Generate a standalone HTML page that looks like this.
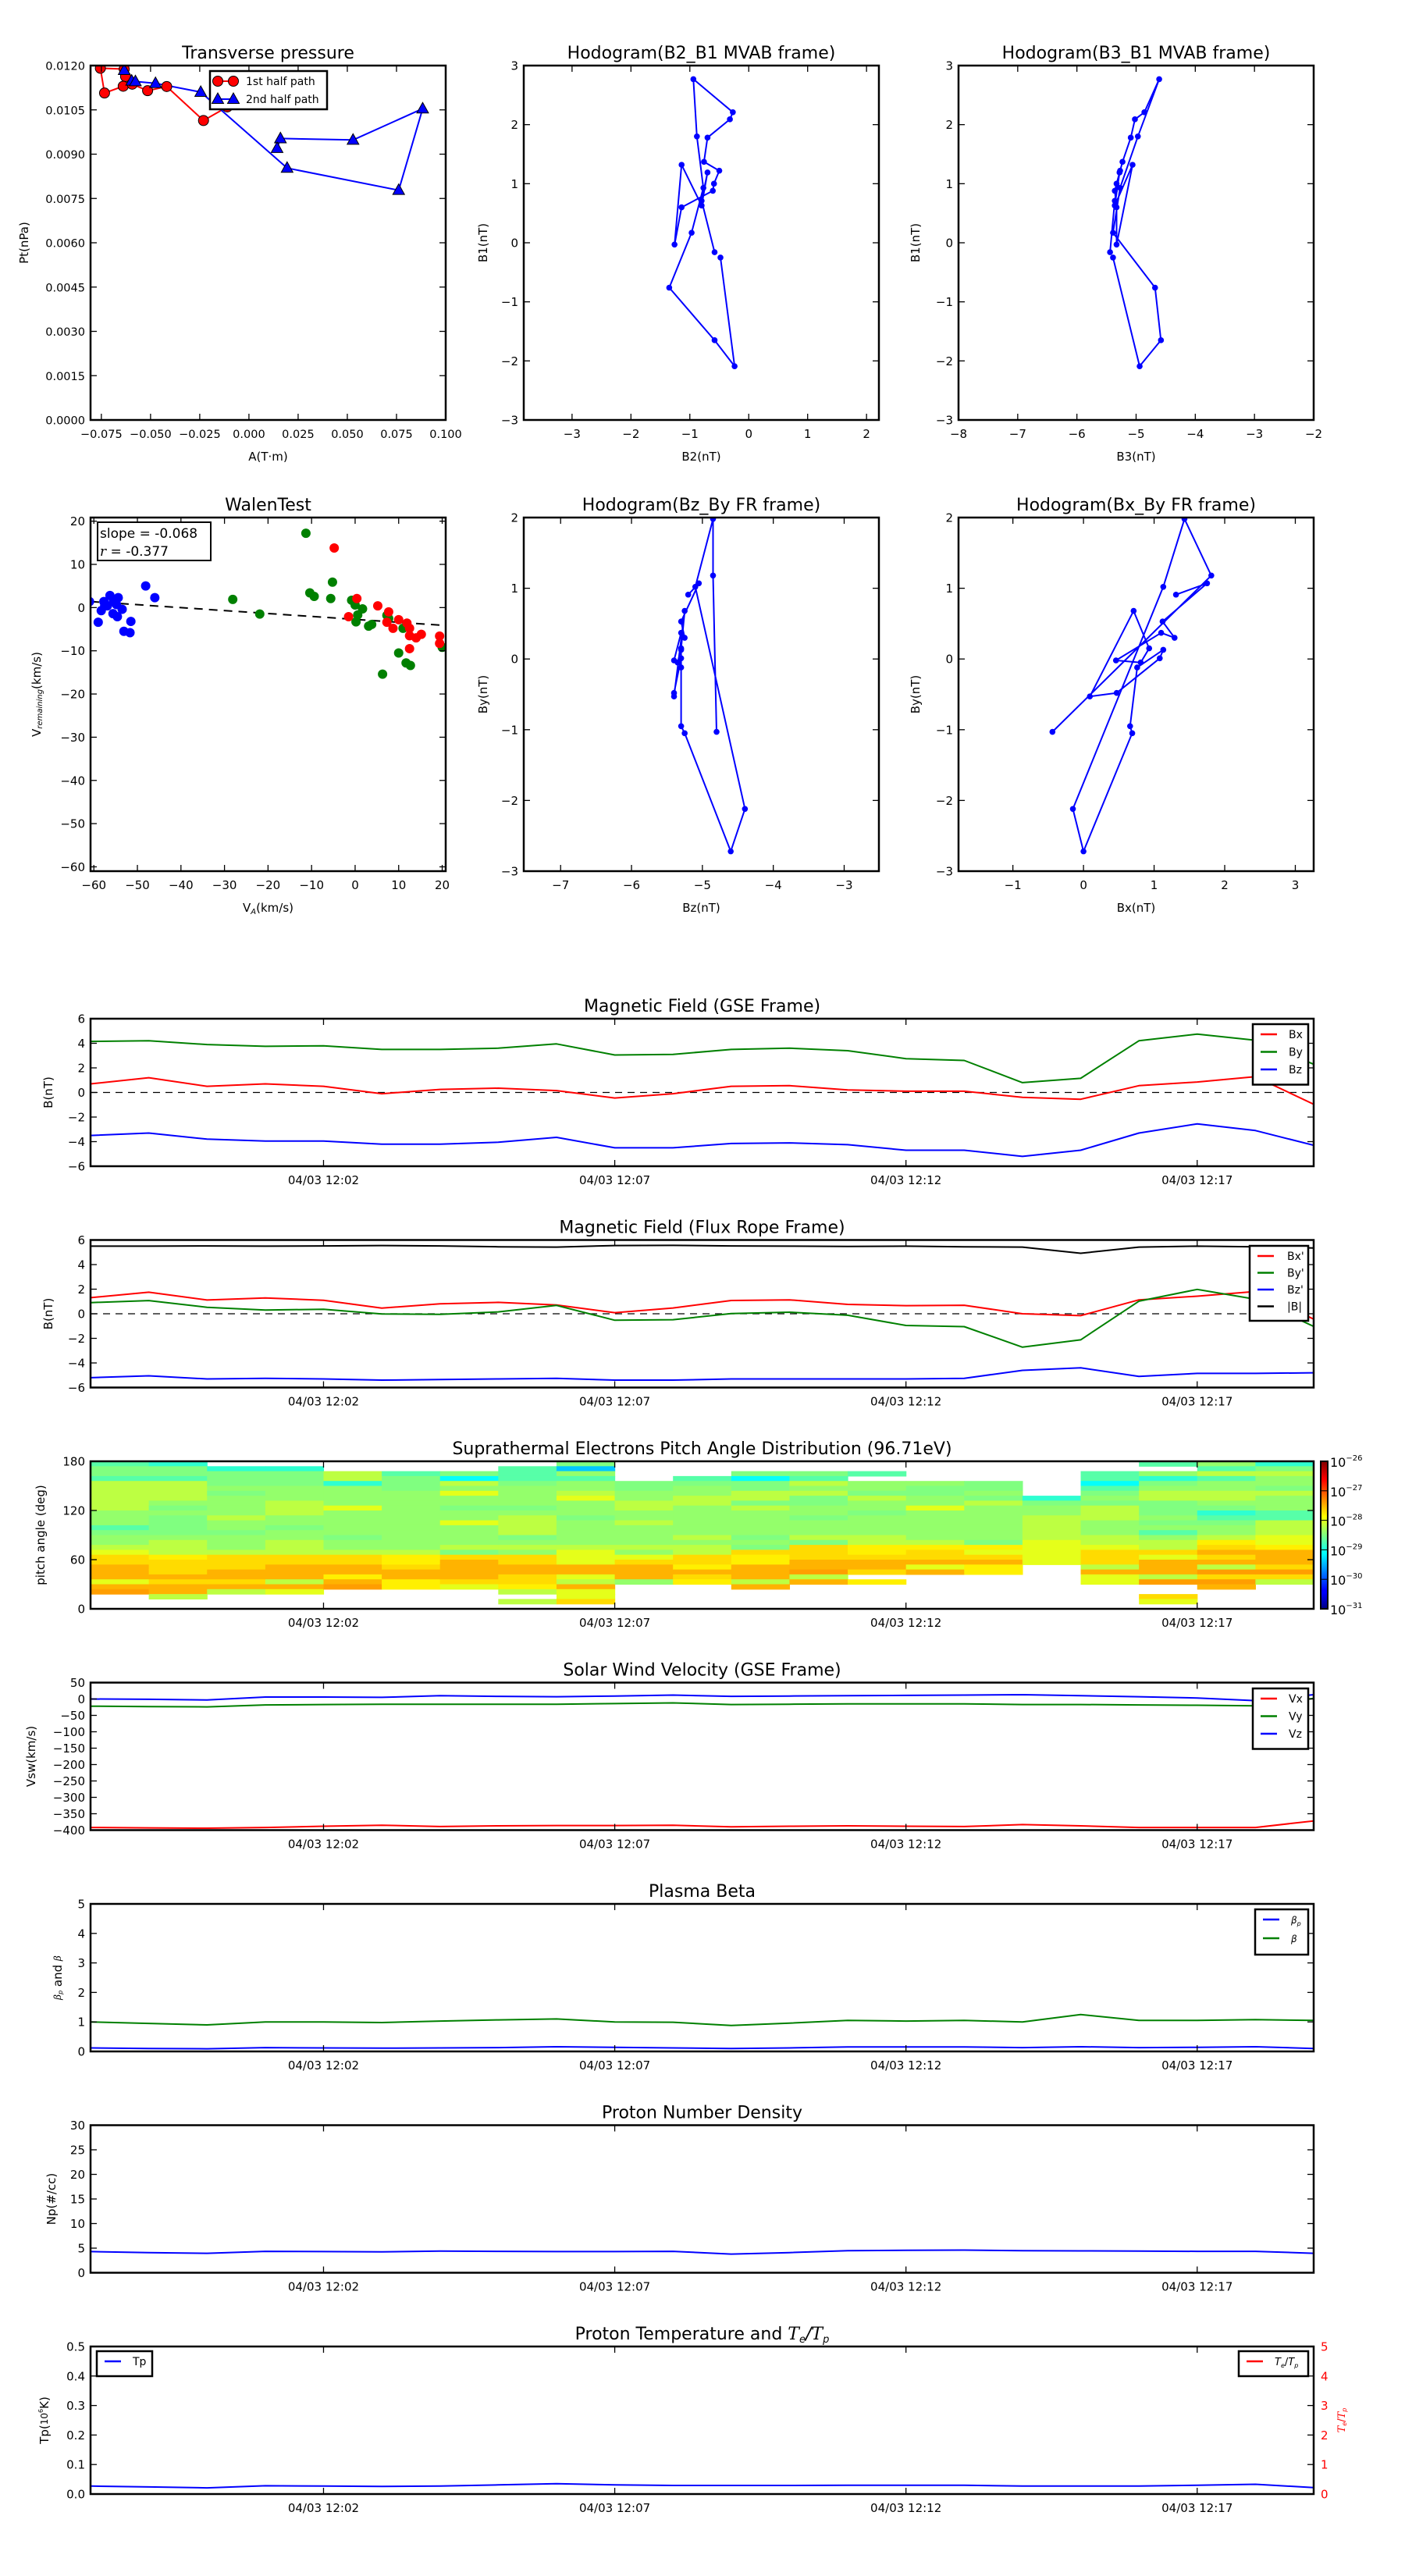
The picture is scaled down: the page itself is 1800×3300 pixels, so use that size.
<!DOCTYPE html>
<html><head><meta charset="utf-8"><style>
html,body{margin:0;padding:0;background:#fff;}
svg{display:block;font-family:"DejaVu Sans","Liberation Sans",sans-serif;}
</style></head>
<body>
<svg id="fig" width="1800" height="3300" viewBox="0 0 1800 3300" xmlns="http://www.w3.org/2000/svg">
<defs>
<linearGradient id="jet" x1="0" y1="1" x2="0" y2="0">
<stop offset="0" stop-color="#000080"/><stop offset="0.11" stop-color="#0000ff"/><stop offset="0.125" stop-color="#0000ff"/>
<stop offset="0.375" stop-color="#00ffff"/><stop offset="0.625" stop-color="#ffff00"/><stop offset="0.875" stop-color="#ff0000"/><stop offset="1" stop-color="#800000"/>
</linearGradient>
</defs>
<rect x="0" y="0" width="1800" height="3300" fill="#fff"/>
</svg>
<script>
// ---------------- DATA ----------------
const N = null;
// Transverse pressure
const tp1A = [-0.0627,-0.0634,-0.0755,-0.0734,-0.0639,-0.0593,-0.0515,-0.0418,-0.0231,-0.011];
const tp1P = [0.01163,0.01188,0.01191,0.01107,0.0113,0.01137,0.01115,0.01129,0.01014,0.0106];
const tp2A = [-0.0634,-0.0596,-0.0577,-0.0475,-0.0245,0.0194,0.0761,0.0883,0.0529,0.0160,0.0143];
const tp2P = [0.01184,0.01148,0.01146,0.0114,0.0111,0.00853,0.00778,0.01054,0.00948,0.00953,0.0092];
// MVAB hodograms
const mvB1 = [-0.25,-2.09,-1.65,-0.76,0.17,0.93,1.80,2.77,2.21,2.09,1.78,1.37,1.22,1.00,0.88,0.60,-0.03,1.32,0.63,1.19,0.71,-0.16];
const mvB2 = [-0.48,-0.24,-0.58,-1.35,-0.97,-0.77,-0.88,-0.94,-0.27,-0.32,-0.70,-0.76,-0.50,-0.59,-0.61,-1.14,-1.26,-1.14,-0.80,-0.70,-0.80,-0.58];
const mvB3 = [-5.39,-4.94,-4.58,-4.68,-5.39,-5.27,-4.97,-4.61,-4.86,-5.02,-5.09,-5.23,-5.27,-5.33,-5.36,-5.33,-5.33,-5.06,-5.36,-5.28,-5.36,-5.44];
// Walen test
const walBlueX = [-61,-59,-58.3,-57.7,-56.3,-56.9,-55.6,-54.8,-54.4,-54.6,-53.5,-53.1,-51.7,-51.5,-48.1,-46,-57.5,-55.5];
const walBlueY = [1.4,-3.4,-0.7,1.4,2.8,0.4,-1.4,0.7,2.3,-2.1,-0.4,-5.5,-5.8,-3.2,5.0,2.3,0.5,1.5];
const walGreenX = [-28.1,-21.9,-11.3,-10.4,-9.4,-5.2,-5.6,-0.8,0,0.2,0.6,1.7,3.1,3.8,6.3,7.3,7.7,10,11,11.7,12.7,20];
const walGreenY = [1.9,-1.5,17.2,3.4,2.6,5.9,2.1,1.7,0.6,-3.3,-1.7,-0.3,-4.3,-3.9,-15.4,-1.8,-2.5,-10.5,-4.8,-12.8,-13.4,-9.2];
const walRedX = [-4.8,-1.5,0.4,5.2,7.7,7.3,8.7,10,11.9,12.5,12.5,12.5,14,15.2,19.4,19.4];
const walRedY = [13.8,-2.1,2.1,0.4,-1.0,-3.4,-4.8,-2.8,-3.6,-4.8,-6.5,-9.5,-7,-6.2,-6.6,-8.3];
const walSlope = -0.068;
const walIntercept = -2.73;
// time axis (minutes after 11:58)
const tMin = [0,1,2,3,4,5,6,7,8,9,10,11,12,13,14,15,16,17,18,19,20,21];
const timeTickMin = [4,9,14,19];
const timeTickLabels = ["04/03 12:02","04/03 12:07","04/03 12:12","04/03 12:17"];
// GSE field
const gseBx = [0.7,1.2,0.5,0.7,0.5,-0.1,0.25,0.35,0.15,-0.45,-0.1,0.5,0.55,0.2,0.1,0.1,-0.4,-0.55,0.55,0.85,1.28,-0.96];
const gseBy = [4.15,4.2,3.9,3.75,3.8,3.5,3.5,3.6,3.95,3.05,3.1,3.5,3.6,3.4,2.75,2.6,0.8,1.15,4.2,4.75,4.25,2.3];
const gseBz = [-3.5,-3.3,-3.8,-3.95,-3.95,-4.2,-4.2,-4.05,-3.65,-4.5,-4.5,-4.15,-4.1,-4.25,-4.7,-4.7,-5.2,-4.7,-3.3,-2.55,-3.1,-4.3];
// Flux rope field
const frBx = [1.31,1.75,1.12,1.29,1.1,0.46,0.81,0.93,0.71,0.09,0.47,1.08,1.13,0.76,0.66,0.69,0.0,-0.15,1.13,1.43,1.81,-0.44];
const frBy = [0.91,1.07,0.53,0.3,0.37,-0.02,-0.05,0.15,0.68,-0.53,-0.48,0.01,0.13,-0.12,-0.95,-1.05,-2.72,-2.12,1.02,1.98,1.18,-1.03];
const frBz = [-5.2,-5.05,-5.3,-5.25,-5.3,-5.4,-5.35,-5.3,-5.25,-5.4,-5.4,-5.3,-5.3,-5.3,-5.3,-5.25,-4.6,-4.4,-5.1,-4.85,-4.85,-4.8];
const frBt = [5.5,5.5,5.52,5.5,5.52,5.55,5.52,5.45,5.42,5.55,5.56,5.52,5.5,5.47,5.5,5.45,5.42,4.92,5.42,5.5,5.45,5.35];
// Solar wind velocity
const vx = [-392,-393,-394,-392,-388,-385,-389,-387,-386,-386,-385,-390,-388,-387,-388,-389,-383,-387,-392,-392,-392,-372];
const vy = [-22,-23,-24,-18,-17,-16,-16,-16,-16,-14,-12,-17,-16,-15,-15,-15,-17,-17,-18,-19,-21,2];
const vz = [0,-1,-3,6,6,5,10,8,7,9,12,8,9,10,11,12,13,10,7,3,-5,13];
// Plasma beta
const betaTot = [1.0,0.95,0.9,1.0,1.0,0.98,1.03,1.07,1.1,1.0,0.99,0.88,0.96,1.05,1.03,1.05,1.0,1.25,1.05,1.05,1.08,1.05];
const betaP = [0.12,0.1,0.09,0.13,0.12,0.11,0.12,0.13,0.16,0.14,0.12,0.1,0.12,0.15,0.15,0.15,0.13,0.16,0.13,0.14,0.16,0.1];
// Density, temperature
const np = [4.3,4.1,3.95,4.35,4.3,4.25,4.4,4.35,4.3,4.3,4.35,3.8,4.1,4.5,4.55,4.6,4.5,4.45,4.4,4.35,4.35,3.95];
const tp = [0.027,0.024,0.021,0.028,0.027,0.026,0.027,0.031,0.035,0.031,0.029,0.029,0.029,0.03,0.03,0.03,0.027,0.027,0.027,0.03,0.033,0.022];
// PAD: log10 values, each column top (180 deg) to bottom (0 deg), 6-deg bins
const padCols = [
[-28.7,-28.5,-28.5,-28.7,-28.2,-28.2,-28.2,-28.2,-28.2,-28.2,-28.4,-28.4,-28.4,-28.7,-28.5,-28.4,-28.4,-28.2,-28,-27.7,-27.7,-27.5,-27.5,-27.5,-28,-27.5,-27.4,N,N,N],
[-28.9,-28.5,-28.5,-28.7,-28.2,-28.2,-28.2,-28.2,-28.4,-28.5,-28.4,-28.5,-28.5,-28.5,-28.5,-28.4,-28.2,-28.2,-28.2,-27.8,-27.7,-27.7,-27.7,-27.5,-27.7,-27.5,-27.5,-28.2,N,N],
[N,-28.9,-28.5,-28.5,-28.5,-28.4,-28.5,-28.4,-28.4,-28.4,-28.4,-28.2,-28.4,-28.4,-28.5,-28.4,-28.4,-28.4,-28.2,-27.7,-27.7,-27.7,-27.5,-27.5,-27.7,-27.5,-28.2,N,N,N],
[N,-28.9,-28.5,-28.5,-28.5,-28.4,-28.4,-28.4,-28.2,-28.2,-28.2,-28.4,-28.4,-28.5,-28.4,-28.4,-28.2,-28.2,-28.2,-27.7,-27.7,-27.5,-27.5,-27.5,-28.2,-27.5,-28,N,N,N],
[N,N,-28.2,-28.2,-28.9,-28.4,-28.4,-28.4,-28.4,-28,-28.4,-28.4,-28.4,-28.4,-28.4,-28.5,-28.4,-28.4,-28.2,-27.7,-27.7,-27.5,-27.5,-27.8,-27.5,-27.4,N,N,N,N],
[N,N,-28.7,-28.5,-28.5,-28.5,-28.4,-28.4,-28.4,-28.4,-28.4,-28.4,-28.4,-28.4,-28.4,-28.4,-28.4,-28.4,-28.2,-27.8,-27.8,-27.7,-27.5,-27.5,-27.8,-27.8,N,N,N,N],
[N,N,-28.5,-29.1,-28.2,-28.4,-28,-28.4,-28.4,-28.5,-28.4,-28.4,-28,-28.4,-28.4,-28.4,-28.4,-28.2,-28.5,-27.7,-27.5,-27.5,-27.5,-27.5,-27.7,-28,N,N,N,N],
[N,-28.7,-28.7,-28.7,-28.5,-28.4,-28.4,-28.4,-28.4,-28.5,-28.4,-28.2,-28.2,-28.2,-28.2,-28.5,-28.4,-28.2,-28.4,-27.7,-27.7,-27.5,-27.5,-27.7,-27.7,-27.8,-28.2,N,-28.2,N],
[-28.5,-29.4,-28.4,-28.7,-28.4,-28.4,-28.2,-28,-28.4,-28.4,-28.4,-28.5,-28.4,-28.4,-28.4,-28.4,-28.4,-28.2,-28,-28,-28,-27.5,-27.5,-28,-28.2,-27.5,-28,-28,-27.7,N],
[N,N,N,N,-28.5,-28.5,-28.4,-28.4,-28.2,-28.2,-28.4,-28.4,-28.2,-28.4,-28.4,-28.4,-28.4,-28.2,-28.4,-28,-27.7,-27.5,-27.5,-27.5,-28.4,N,N,N,N,N],
[N,N,N,-28.7,-28.5,-28.4,-28.4,-28.2,-28.2,-28.4,-28.4,-28.4,-28.4,-28.4,-28.4,-28.2,-28.4,-28.2,-28.2,-27.7,-27.7,-27.8,-27.5,-27.7,-27.8,N,N,N,N,N],
[N,N,-28.5,-29.1,-28.5,-28.5,-28.2,-28.2,-28.5,-28.2,-28.4,-28.4,-28.4,-28.4,-28.4,-28.5,-28.4,-28.5,-27.7,-27.8,-27.8,-27.5,-27.5,-27.5,-28.2,-27.5,N,N,N,N],
[N,N,-28.5,-28.7,-28.2,-28.4,-28.2,-28.5,-28.5,-28.4,-28.4,-28.5,-28.4,-28.4,-28.4,-28.2,-28.5,-27.7,-27.7,-27.7,-27.5,-27.5,-27.4,-28.2,-27.5,N,N,N,N,N],
[N,N,-28.7,N,-28.4,-28.4,-28.5,-28.2,-28.4,-28.4,-28.5,-28.4,-28.4,-28.4,-28.4,-28.2,-28.2,-27.8,-27.8,-27.7,-27.5,-27.5,-27.7,N,-27.8,N,N,N,N,N],
[N,N,N,N,-28.4,-28.5,-28.5,-28.4,-28.4,-28,-28.4,-28.4,-28.4,-28.4,-28.4,-28.4,-28.2,-27.8,-27.7,-27.7,-27.5,-28,-27.5,N,N,N,N,N,N,N],
[N,N,N,N,-28.5,-28.5,-28.4,-28.5,-28.2,-28.4,-28.4,-28.4,-28.4,-28.4,-28.4,-28.4,-28.5,-27.8,-28,-27.7,-27.5,-27.8,-27.8,N,N,N,N,N,N,N],
[N,N,N,N,N,N,N,-28.9,-28.5,-28.4,-28.4,-28.2,-28.2,-28.2,-28.2,-28.2,-28,-28,-28,-28,-28,N,N,N,N,N,N,N,N,N],
[N,N,-28.7,-28.7,-29.1,-28.7,-28.5,-28.4,-28.5,-28.2,-28.2,-28.2,-28.4,-28.4,-28.4,-28.2,-28.2,-28,-27.7,-27.7,-27.7,-28.2,-27.5,-28,-28,N,N,N,N,N],
[-28.7,N,-28.4,-28.9,-28.5,-28.4,-28.2,-28.2,-28.5,-28.5,-28.5,-28.4,-28.5,-28.4,-28.7,-28.4,-28.2,-28.2,-27.7,-28,-27.5,-27.5,-27.5,-28.2,-27.4,N,N,-27.7,-28,N],
[-28.4,-28.7,-28.2,-28.7,-28.4,-28.4,-28.2,-28.2,-28.4,-28.5,-28.9,-28.7,-28.5,-28.4,-28.4,-28.2,-27.8,-27.7,-27.5,-27.7,-27.5,-28.2,-27.4,-27.7,-27.4,-27.5,N,N,N,N],
[-28.9,-28.5,-28.2,-28.4,-28.4,-28.5,-28.2,-28.4,-28.4,-28.4,-28.7,-28.7,-28.2,-28.2,-28.2,-28,-28,-27.8,-27.5,-27.5,-27.5,-27.7,-27.4,-27.7,-28.2,N,N,N,N,N]
];
const cbarTickExp = [-26,-27,-28,-29,-30,-31];

// ---------------- DRAWING HELPERS ----------------
const NS = 'http://www.w3.org/2000/svg';
const svg = document.getElementById('fig');
function mk(tag, parent) { const e = document.createElementNS(NS, tag); (parent || svg).appendChild(e); return e; }
function attr(e, o) { for (const k in o) e.setAttribute(k, o[k]); return e; }
function txt(parent, x, y, s, size, anchor, fill) {
  const t = mk('text', parent);
  attr(t, {x: x, y: y, 'font-size': size, 'text-anchor': anchor || 'middle', fill: fill || '#000'});
  t.textContent = s;
  return t;
}
let clipId = 0;
function axes(name, x0, y0, w, h, xmin, xmax, ymin, ymax) {
  const g = mk('g');
  
  
  const cid = 'clip' + (clipId++);
  const cp = mk('clipPath', g); cp.setAttribute('id', cid);
  attr(mk('rect', cp), {x: x0, y: y0, width: w, height: h});
  const plot = mk('g', g); plot.setAttribute('clip-path', 'url(#' + cid + ')');
  
  
  return {g: g, plot: plot, x0: x0, y0: y0, w: w, h: h,
    sx: v => x0 + (v - xmin) / (xmax - xmin) * w,
    sy: v => y0 + h - (v - ymin) / (ymax - ymin) * h};
}
function frame(ax) {
  const r = mk('rect', ax.g);
  attr(r, {x: ax.x0, y: ax.y0, width: ax.w, height: ax.h, fill: 'none', stroke: '#000', 'stroke-width': 2.5});
  
  
}
function xticks(ax, vals, labels, size) {
  const tg = mk('g', ax.g);
  
  
  vals.forEach((v, i) => {
    const x = ax.sx(v);
    attr(mk('line', tg), {x1: x, x2: x, y1: ax.y0 + ax.h, y2: ax.y0 + ax.h - 8, stroke: '#000', 'stroke-width': 1.3});
    attr(mk('line', tg), {x1: x, x2: x, y1: ax.y0, y2: ax.y0 + 8, stroke: '#000', 'stroke-width': 1.3});
    const t = txt(tg, x, ax.y0 + ax.h + 23, labels[i], size || 15);
    
    
  });
}
function yticks(ax, vals, labels, size, noRight) {
  const tg = mk('g', ax.g);
  
  
  vals.forEach((v, i) => {
    const y = ax.sy(v);
    attr(mk('line', tg), {x1: ax.x0, x2: ax.x0 + 8, y1: y, y2: y, stroke: '#000', 'stroke-width': 1.3});
    if (!noRight) attr(mk('line', tg), {x1: ax.x0 + ax.w, x2: ax.x0 + ax.w - 8, y1: y, y2: y, stroke: '#000', 'stroke-width': 1.3});
    const t = txt(tg, ax.x0 - 7, y + 5.5, labels[i], size || 15, 'end');
    
    
  });
}
function title(ax, s) {
  const t = txt(ax.g, ax.x0 + ax.w / 2, ax.y0 - 9, s, 22);
  
  
  return t;
}
function xlabel(ax, s) {
  const t = txt(ax.g, ax.x0 + ax.w / 2, ax.y0 + ax.h + 52, s, 15);
  
  
  return t;
}
function ylabel(ax, x, s, fill) {
  const y = ax.y0 + ax.h / 2;
  const t = txt(ax.g, x, y, s, 15, 'middle', fill);
  t.setAttribute('transform', 'rotate(-90 ' + x + ' ' + y + ')');
  t.setAttribute('dominant-baseline', 'central');
  
  
  return t;
}
function line(ax, xs, ys, color, w, name) {
  const p = mk('polyline', ax.plot);
  attr(p, {points: xs.map((x, i) => ax.sx(x).toFixed(1) + ',' + ax.sy(ys[i]).toFixed(1)).join(' '), fill: 'none', stroke: color, 'stroke-width': w || 2, 'stroke-linejoin': 'round'});
  
  
  return p;
}
function dots(ax, xs, ys, color, r, name) {
  const g = mk('g', ax.plot);
  
  
  xs.forEach((x, i) => {
    const c = mk('circle', g);
    attr(c, {cx: ax.sx(x), cy: ax.sy(ys[i]), r: r, fill: color});
  });
  return g;
}
function zeroDash(ax) {
  const l = mk('line', ax.plot);
  attr(l, {x1: ax.x0, x2: ax.x0 + ax.w, y1: ax.sy(0), y2: ax.sy(0), stroke: '#000', 'stroke-width': 1.3, 'stroke-dasharray': '9,7'});
  
  
}
function legend(ax, x, y, w, entries, rowH, lineX, textX) {
  const g = mk('g', ax.g);
  
  
  attr(mk('rect', g), {x: x, y: y, width: w, height: entries.length * rowH + 10, fill: '#fff', stroke: '#000', 'stroke-width': 2.5});
  entries.forEach((e, i) => {
    const cy = y + 13 + i * rowH;
    const eg = mk('g', g);
    
    
    attr(mk('line', eg), {x1: x + lineX, x2: x + lineX + 21, y1: cy, y2: cy, stroke: e[1], 'stroke-width': 2.5});
    const t = txt(eg, x + textX, cy + 5, '', 14, 'start');
    if (e[2]) { e[2](t); } else { t.textContent = e[0]; }
  });
}
function tspan(t, s, o) { const sp = mk('tspan', t); if (o) attr(sp, o); sp.textContent = s; return sp; }

const tTicks = timeTickMin;
function timeAxes(name, y0, ymin, ymax) {
  const ax = axes(name, 116, y0, 1567, 189, 0, 21, ymin, ymax);
  return ax;
}

// ---------------- PANEL 1: Transverse pressure ----------------
{
  const ax = axes('transverse-pressure-chart', 116, 84, 455, 454, -0.0805, 0.1, 0, 0.012);
  title(ax, 'Transverse pressure');
  line(ax, tp1A, tp1P, '#ff0000', 2, 'first-half-path-line');
  line(ax, tp2A, tp2P, '#0000ff', 2, 'second-half-path-line');
  const mg1 = mk('g', ax.plot);
  
  
  tp1A.forEach((a, i) => { attr(mk('circle', mg1), {cx: ax.sx(a), cy: ax.sy(tp1P[i]), r: 6.5, fill: '#ff0000', stroke: '#000', 'stroke-width': 1}); });
  const mg2 = mk('g', ax.plot);
  
  
  tp2A.forEach((a, i) => { const x = ax.sx(a), y = ax.sy(tp2P[i]);
    attr(mk('polygon', mg2), {points: (x) + ',' + (y - 8) + ' ' + (x - 7.5) + ',' + (y + 5.5) + ' ' + (x + 7.5) + ',' + (y + 5.5), fill: '#0000ff', stroke: '#000', 'stroke-width': 1}); });
  const xv = [-0.075,-0.05,-0.025,0,0.025,0.05,0.075,0.1];
  xticks(ax, xv, ['\u22120.075','\u22120.050','\u22120.025','0.000','0.025','0.050','0.075','0.100'], 14.5);
  const yv = [0,0.0015,0.003,0.0045,0.006,0.0075,0.009,0.0105,0.012];
  yticks(ax, yv, yv.map(v => v.toFixed(4)), 14.5);
  xlabel(ax, 'A(T\u00b7m)');
  ylabel(ax, 31, 'Pt(nPa)');
  // legend
  const lg = mk('g', ax.g);
  
  
  attr(mk('rect', lg), {x: 269, y: 91, width: 150, height: 49, fill: '#fff', stroke: '#000', 'stroke-width': 2.5});
  const e1 = mk('g', lg);  
  attr(mk('line', e1), {x1: 279, x2: 299, y1: 104, y2: 104, stroke: '#f00', 'stroke-width': 2});
  attr(mk('circle', e1), {cx: 279, cy: 104, r: 6.5, fill: '#f00', stroke: '#000'});
  attr(mk('circle', e1), {cx: 299, cy: 104, r: 6.5, fill: '#f00', stroke: '#000'});
  txt(e1, 315, 109, '1st half path', 14, 'start');
  const e2 = mk('g', lg);  
  attr(mk('line', e2), {x1: 279, x2: 299, y1: 127, y2: 127, stroke: '#00f', 'stroke-width': 2});
  attr(mk('polygon', e2), {points: '279,119 271.5,132.5 286.5,132.5', fill: '#00f', stroke: '#000'});
  attr(mk('polygon', e2), {points: '299,119 291.5,132.5 306.5,132.5', fill: '#00f', stroke: '#000'});
  txt(e2, 315, 132, '2nd half path', 14, 'start');
  frame(ax);
}
// ---------------- Hodograms ----------------
function hodo(name, x0, y0, h, xr, yr, xs, ys, ttl, xl, yl, ylx, xtv, ytv) {
  const ax = axes(name, x0, y0, 455, h, xr[0], xr[1], yr[0], yr[1]);
  title(ax, ttl);
  line(ax, xs, ys, '#0000ff', 2, 'hodogram-path');
  dots(ax, xs, ys, '#0000ff', 3.8, 'hodogram-points');
  xticks(ax, xtv, xtv.map(v => v < 0 ? '\u2212' + (-v) : '' + v));
  yticks(ax, ytv, ytv.map(v => v < 0 ? '\u2212' + (-v) : '' + v));
  xlabel(ax, xl);
  ylabel(ax, ylx, yl);
  frame(ax);
}
hodo('hodogram-b2-b1', 671, 84, 454, [-3.82, 2.21], [-3, 3], mvB2, mvB1, 'Hodogram(B2_B1 MVAB frame)', 'B2(nT)', 'B1(nT)', 619, [-3,-2,-1,0,1,2], [-3,-2,-1,0,1,2,3]);
hodo('hodogram-b3-b1', 1228, 84, 454, [-8, -2], [-3, 3], mvB3, mvB1, 'Hodogram(B3_B1 MVAB frame)', 'B3(nT)', 'B1(nT)', 1173, [-8,-7,-6,-5,-4,-3,-2], [-3,-2,-1,0,1,2,3]);
hodo('hodogram-bz-by', 671, 663, 453, [-7.52, -2.51], [-3, 2], frBz, frBy, 'Hodogram(Bz_By FR frame)', 'Bz(nT)', 'By(nT)', 619, [-7,-6,-5,-4,-3], [-3,-2,-1,0,1,2]);
hodo('hodogram-bx-by', 1228, 663, 453, [-1.77, 3.26], [-3, 2], frBx, frBy, 'Hodogram(Bx_By FR frame)', 'Bx(nT)', 'By(nT)', 1173, [-1,0,1,2,3], [-3,-2,-1,0,1,2]);

// ---------------- Walen test ----------------
{
  const ax = axes('walen-test-chart', 116, 663, 455, 453, -60.76, 20.8, -61.0, 20.84);
  title(ax, 'WalenTest');
  const fx = [-60.76, 20.8];
  const fl = mk('line', ax.plot);
  attr(fl, {x1: ax.sx(fx[0]), y1: ax.sy(walSlope * fx[0] + walIntercept), x2: ax.sx(fx[1]), y2: ax.sy(walSlope * fx[1] + walIntercept), stroke: '#000', 'stroke-width': 2, 'stroke-dasharray': '11,8'});
  
  
  dots(ax, walBlueX, walBlueY, '#0000ff', 6, 'walen-points-blue');
  dots(ax, walGreenX, walGreenY, '#008000', 6, 'walen-points-green');
  dots(ax, walRedX, walRedY, '#ff0000', 6, 'walen-points-red');
  const xv = [-60,-50,-40,-30,-20,-10,0,10,20];
  xticks(ax, xv, xv.map(v => v < 0 ? '\u2212' + (-v) : '' + v));
  const yv = [-60,-50,-40,-30,-20,-10,0,10,20];
  yticks(ax, yv, yv.map(v => v < 0 ? '\u2212' + (-v) : '' + v));
  const xl = xlabel(ax, 'V');
  tspan(xl, 'A', {'font-size': 10, 'font-style': 'italic', dy: 3});
  tspan(xl, '(km/s)', {dy: -3});
  const yl = ylabel(ax, 47, 'V');
  tspan(yl, 'remaining', {'font-size': 10, 'font-style': 'italic', dy: 4});
  tspan(yl, '(km/s)', {dy: -4});
  const bx = mk('g', ax.g);
  
  
  attr(mk('rect', bx), {x: 125, y: 669, width: 145, height: 49, fill: '#fff', stroke: '#000', 'stroke-width': 2});
  txt(bx, 128, 689, 'slope = -0.068', 17, 'start');
  const r2 = txt(bx, 128, 712, '', 17, 'start');
  tspan(r2, 'r', {'font-style': 'italic', 'font-family': 'DejaVu Serif, serif'});
  tspan(r2, ' = -0.377');
  frame(ax);
}

// ---------------- Time series ----------------
const tLabels = timeTickLabels;
function tsAxes(name, y0, ymin, ymax, ttl) {
  const ax = axes(name, 116, y0, 1567, 189, 0, 21, ymin, ymax);
  title(ax, ttl);
  xticks(ax, tTicks, tLabels);
  return ax;
}
const fmt = v => v < 0 ? '\u2212' + (-v) : '' + v;
// GSE
{
  const ax = tsAxes('magnetic-field-gse-chart', 1305, -6, 6, 'Magnetic Field (GSE Frame)');
  zeroDash(ax);
  line(ax, tMin, gseBx, '#ff0000', 2, 'series-bx');
  line(ax, tMin, gseBy, '#008000', 2, 'series-by');
  line(ax, tMin, gseBz, '#0000ff', 2, 'series-bz');
  const yv = [-6,-4,-2,0,2,4,6];
  yticks(ax, yv, yv.map(fmt));
  ylabel(ax, 62, 'B(nT)');
  legend(ax, 1605, 1312, 71, [['Bx', '#ff0000'], ['By', '#008000'], ['Bz', '#0000ff']], 22.5, 10, 46);
  frame(ax);
}
// Flux rope
{
  const ax = tsAxes('magnetic-field-flux-rope-chart', 1588.5, -6, 6, 'Magnetic Field (Flux Rope Frame)');
  zeroDash(ax);
  line(ax, tMin, frBt, '#000000', 2, 'series-b-total');
  line(ax, tMin, frBx, '#ff0000', 2, 'series-bx-prime');
  line(ax, tMin, frBy, '#008000', 2, 'series-by-prime');
  line(ax, tMin, frBz, '#0000ff', 2, 'series-bz-prime');
  const yv = [-6,-4,-2,0,2,4,6];
  yticks(ax, yv, yv.map(fmt));
  ylabel(ax, 62, 'B(nT)');
  legend(ax, 1601, 1596, 75, [["Bx'", '#ff0000'], ["By'", '#008000'], ["Bz'", '#0000ff'], ['|B|', '#000000']], 21.5, 10, 48);
  frame(ax);
}
// PAD
function jet(t) {
  const cl = v => Math.max(0, Math.min(1, v));
  const r = cl(1.5 - Math.abs(4 * t - 3)), g = cl(1.5 - Math.abs(4 * t - 2)), b = cl(1.5 - Math.abs(4 * t - 1));
  return 'rgb(' + Math.round(r * 255) + ',' + Math.round(g * 255) + ',' + Math.round(b * 255) + ')';
}
{
  const ax = tsAxes('pitch-angle-distribution-chart', 1872, 0, 180, 'Suprathermal Electrons Pitch Angle Distribution (96.71eV)');
  const hg = mk('g', ax.plot);
  
  
  const nb = padCols[0].length, bw = 180 / nb;
  padCols.forEach((col, j) => {
    col.forEach((v, r) => {
      if (v === null) return;
      const x1 = ax.sx(j), x2 = ax.sx(j + 1), yT = ax.sy(180 - r * bw), yB = ax.sy(180 - (r + 1) * bw);
      const c = mk('rect', hg);
      attr(c, {x: x1.toFixed(2), y: yT.toFixed(2), width: (x2 - x1 + 0.6).toFixed(2), height: (yB - yT + 0.6).toFixed(2), fill: jet((v + 31) / 5)});
    });
  });
  const yv = [0, 60, 120, 180];
  yticks(ax, yv, yv.map(String));
  ylabel(ax, 52, 'pitch angle (deg)');
  frame(ax);
  // colorbar
  const cg = mk('g');
  
  
  attr(mk('rect', cg), {x: 1692, y: 1872, width: 9, height: 189, fill: 'url(#jet)', stroke: '#000', 'stroke-width': 2});
  cbarTickExp.forEach(e => {
    const y = 1872 + (-26 - e) / 5 * 189;
    attr(mk('line', cg), {x1: 1692, x2: 1701, y1: y, y2: y, stroke: '#000', 'stroke-width': 1});
    const t = txt(cg, 1704, y + 7, '10', 16, 'start');
    
    
    tspan(t, '\u2212' + (-e), {'font-size': 10, dy: -8});
  });
}
// Velocity
{
  const ax = tsAxes('solar-wind-velocity-chart', 2155.5, -400, 50, 'Solar Wind Velocity (GSE Frame)');
  line(ax, tMin, vx, '#ff0000', 2, 'series-vx');
  line(ax, tMin, vy, '#008000', 2, 'series-vy');
  line(ax, tMin, vz, '#0000ff', 2, 'series-vz');
  const yv = [-400,-350,-300,-250,-200,-150,-100,-50,0,50];
  yticks(ax, yv, yv.map(fmt));
  ylabel(ax, 40, 'Vsw(km/s)');
  legend(ax, 1605, 2163, 71, [['Vx', '#ff0000'], ['Vy', '#008000'], ['Vz', '#0000ff']], 22.5, 10, 46);
  frame(ax);
}
// Beta
{
  const ax = tsAxes('plasma-beta-chart', 2439, 0, 5, 'Plasma Beta');
  line(ax, tMin, betaP, '#0000ff', 2, 'series-beta-p');
  line(ax, tMin, betaTot, '#008000', 2, 'series-beta');
  const yv = [0,1,2,3,4,5];
  yticks(ax, yv, yv.map(String));
  const yl = ylabel(ax, 74, '');
  tspan(yl, '\u03b2', {'font-style': 'italic', 'font-family': 'DejaVu Serif, serif', 'font-size': 12});
  tspan(yl, 'p', {'font-style': 'italic', 'font-size': 8, dy: 3});
  tspan(yl, ' and ', {dy: -3});
  tspan(yl, '\u03b2', {'font-style': 'italic', 'font-family': 'DejaVu Serif, serif', 'font-size': 12});
  legend(ax, 1608, 2446, 68, [['bp', '#0000ff', t => { tspan(t, '\u03b2', {'font-style': 'italic', 'font-size': 12}); tspan(t, 'p', {'font-style': 'italic', 'font-size': 8, dy: 3}); }], ['b', '#008000', t => { tspan(t, '\u03b2', {'font-style': 'italic', 'font-size': 12}); }]], 24, 10, 46);
  frame(ax);
}
// Density
{
  const ax = tsAxes('proton-density-chart', 2722.5, 0, 30, 'Proton Number Density');
  line(ax, tMin, np, '#0000ff', 2, 'series-np');
  const yv = [0,5,10,15,20,25,30];
  yticks(ax, yv, yv.map(String));
  ylabel(ax, 66, 'Np(#/cc)');
  frame(ax);
}
// Temperature
{
  const ax = axes('proton-temperature-chart', 116, 3006, 1567, 189, 0, 21, 0, 0.5);
  const tt = title(ax, 'Proton Temperature and ');
  tspan(tt, 'T', {'font-style': 'italic', 'font-family': 'DejaVu Serif, serif'});
  tspan(tt, 'e', {'font-style': 'italic', 'font-size': 13, dy: 4});
  tspan(tt, '/', {dy: -4, 'font-style': 'italic'});
  tspan(tt, 'T', {'font-style': 'italic', 'font-family': 'DejaVu Serif, serif'});
  tspan(tt, 'p', {'font-style': 'italic', 'font-size': 13, dy: 4});
  xticks(ax, tTicks, tLabels);
  line(ax, tMin, tp, '#0000ff', 2, 'series-tp');
  const yv = [0,0.1,0.2,0.3,0.4,0.5];
  yticks(ax, yv, yv.map(v => v.toFixed(1)), 15, true);
  const rg = mk('g', ax.g);
  
  
  [0,1,2,3,4,5].forEach(v => {
    const y = ax.sy(v / 10);
    attr(mk('line', rg), {x1: 1683, x2: 1675, y1: y, y2: y, stroke: '#000', 'stroke-width': 1.3});
    txt(rg, 1692, y + 5.5, String(v), 15, 'start', '#ff0000');
  });
  const yl = ylabel(ax, 57, 'Tp(');
  tspan(yl, '10', {'font-size': 12});
  tspan(yl, '6', {'font-size': 8, dy: -5});
  tspan(yl, 'K)', {dy: 5});
  const ry = ylabel(ax, 1719, '', '#ff0000');
  tspan(ry, 'T', {'font-style': 'italic', 'font-family': 'DejaVu Serif, serif', 'font-size': 13});
  tspan(ry, 'e', {'font-style': 'italic', 'font-size': 8, dy: 3});
  tspan(ry, '/', {dy: -3, 'font-size': 13});
  tspan(ry, 'T', {'font-style': 'italic', 'font-family': 'DejaVu Serif, serif', 'font-size': 13});
  tspan(ry, 'p', {'font-style': 'italic', 'font-size': 8, dy: 3});
  legend(ax, 124, 3012, 71, [['Tp', '#0000ff']], 22, 10, 46);
  legend(ax, 1587, 3012, 89, [['TeTp', '#ff0000', t => { tspan(t, 'T', {'font-style': 'italic', 'font-size': 13}); tspan(t, 'e', {'font-style': 'italic', 'font-size': 8, dy: 3}); tspan(t, '/', {dy: -3, 'font-size': 13}); tspan(t, 'T', {'font-style': 'italic', 'font-size': 13}); tspan(t, 'p', {'font-style': 'italic', 'font-size': 8, dy: 3}); }]], 22, 10, 46);
  frame(ax);
}
</script>
</body></html>
